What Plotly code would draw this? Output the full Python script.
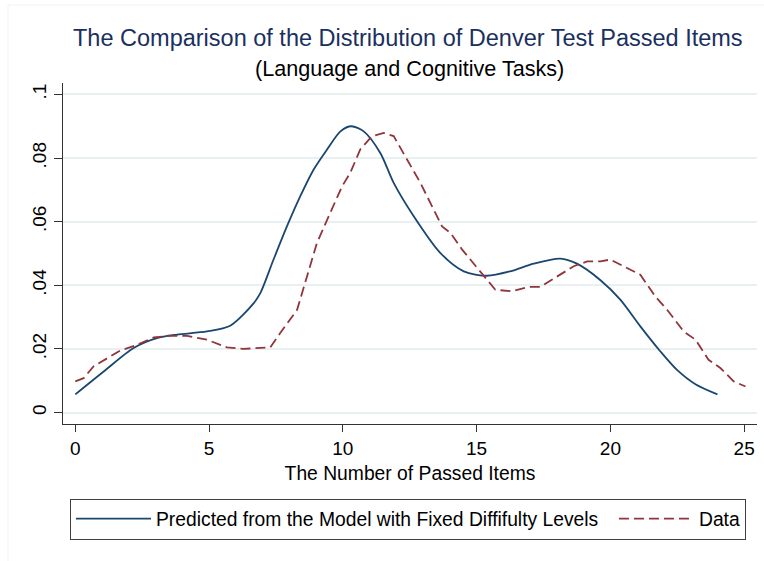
import plotly.graph_objects as go

# Predicted curve (model with fixed difficulty levels)
pred_x = [0.0, 1.06, 2.18, 3.05, 3.80, 4.92, 5.79, 6.67, 6.92, 7.41, 7.91, 8.41, 8.91, 9.41,
          9.91, 10.32, 10.78, 11.40, 11.90, 12.65, 13.64, 14.52, 15.39, 16.26, 17.13, 18.13,
          18.75, 19.63, 20.37, 21.12, 21.87, 22.49, 23.18, 24.0]
pred_y = [0.0057, 0.0129, 0.0203, 0.0234, 0.0245, 0.0255, 0.0273, 0.0344, 0.0376, 0.0481,
          0.0585, 0.0680, 0.0764, 0.0827, 0.0884, 0.0900, 0.0884, 0.0816, 0.0722, 0.0617,
          0.0502, 0.0444, 0.0430, 0.0444, 0.0468, 0.0484, 0.0468, 0.0416, 0.0355, 0.0271,
          0.0192, 0.0134, 0.0089, 0.0057]

# Observed data curve
data_x = [0.0, 0.31, 0.68, 1.18, 1.68, 2.31, 2.93, 3.55, 4.18, 4.92, 5.67, 6.29, 7.29, 7.66,
          8.29, 8.66, 9.03, 9.53, 9.97, 10.28, 10.65, 11.09, 11.53, 11.90, 12.40, 12.90,
          13.27, 13.71, 14.02, 14.46, 15.02, 15.39, 15.70, 16.32, 16.95, 17.38, 18.01, 18.63,
          19.13, 19.63, 20.0, 20.75, 21.12, 21.68, 22.12, 22.74, 23.18, 23.67, 24.11, 24.61, 25.05]
data_y = [0.0098, 0.0108, 0.0145, 0.0171, 0.0195, 0.0213, 0.0236, 0.0241, 0.0241, 0.0229,
          0.0205, 0.0200, 0.0205, 0.0250, 0.0323, 0.0428, 0.0533, 0.0628, 0.0711, 0.0754,
          0.0827, 0.0869, 0.0879, 0.0869, 0.0795, 0.0722, 0.0659, 0.0585, 0.0565, 0.0512,
          0.0455, 0.0418, 0.0386, 0.0381, 0.0395, 0.0395, 0.0428, 0.0460, 0.0475, 0.0475,
          0.0481, 0.0449, 0.0433, 0.0365, 0.0323, 0.0255, 0.0229, 0.0166, 0.0140, 0.0098, 0.0082]

x_ticks = [0, 5, 10, 15, 20, 25]
y_ticks = [0, 0.02, 0.04, 0.06, 0.08, 0.1]
y_tick_labels = ["0", ".02", ".04", ".06", ".08", ".1"]

title_text = "The Comparison of the Distribution of Denver Test Passed Items"
subtitle_text = "(Language and Cognitive Tasks)"
x_title = "The Number of Passed Items"
pred_name = "Predicted from the Model with Fixed Diffifulty Levels"
data_name = "Data"

FONT = "Liberation Sans, Arial, Helvetica, sans-serif"
NAVY = "#1a476f"
MAROON = "#90353b"

fig = go.Figure()
fig.add_trace(go.Scatter(x=pred_x, y=pred_y, mode="lines", name=pred_name + "\u00a0\u00a0",
                         line=dict(color=NAVY, width=1.8, shape="spline", smoothing=0.8)))
fig.add_trace(go.Scatter(x=data_x, y=data_y, mode="lines", name=data_name,
                         line=dict(color=MAROON, width=1.8, dash="10px,5px")))

fig.update_layout(
    width=764, height=561,
    margin=dict(l=63, r=7, t=83, b=137, autoexpand=False),
    paper_bgcolor="white", plot_bgcolor="white",
    font=dict(family=FONT, size=19, color="black"),
    showlegend=True,
    legend=dict(orientation="h", x=0.0101, xanchor="left", y=-0.2189, yanchor="top",
                bordercolor="#404040", borderwidth=1, font=dict(size=19.3),
                itemwidth=75, bgcolor="white"),
    xaxis=dict(range=[-0.46, 25.48], tickvals=x_ticks, ticks="outside", ticklen=7,
               tickwidth=1.3, tickcolor="#333333", showline=True, linecolor="#333333",
               linewidth=1.3, showgrid=False, zeroline=False, automargin=False,
               title=dict(text=x_title, font=dict(size=19.3), standoff=8),
               tickfont=dict(size=19)),
    yaxis=dict(range=[-0.0036, 0.1036], tickvals=y_ticks, ticktext=y_tick_labels,
               ticks="outside", ticklen=8, tickwidth=1.3, tickcolor="#333333",
               showline=True, linecolor="#333333", linewidth=1.3, automargin=False,
               showgrid=True, gridcolor="#e9f0f2", gridwidth=1.5, zeroline=False,
               tickangle=-90, tickfont=dict(size=19)),
    annotations=[
        dict(text=title_text, xref="paper", yref="paper", x=(407.5 - 63) / 694,
             y=(424.3 - 38) / 341.3, xanchor="center", yanchor="middle", showarrow=False,
             font=dict(size=23.5, color="#1a3060", family=FONT)),
        dict(text=subtitle_text, xref="paper", yref="paper", x=(409 - 63) / 694,
             y=(424.3 - 68) / 341.3, xanchor="center", yanchor="middle", showarrow=False,
             font=dict(size=21.6, color="black", family=FONT)),
    ],
    shapes=[dict(type="rect", xref="paper", yref="paper",
                 x0=(8 - 63) / 694, x1=(780 - 63) / 694,
                 y0=(424.3 - 580) / 341.3, y1=(424.3 - 5) / 341.3,
                 line=dict(color="#eef3f5", width=1), layer="below")],
)

fig.write_html("out.html", config={"displayModeBar": False},
               post_script="document.body.style.margin='0';document.body.style.overflow='hidden';")
